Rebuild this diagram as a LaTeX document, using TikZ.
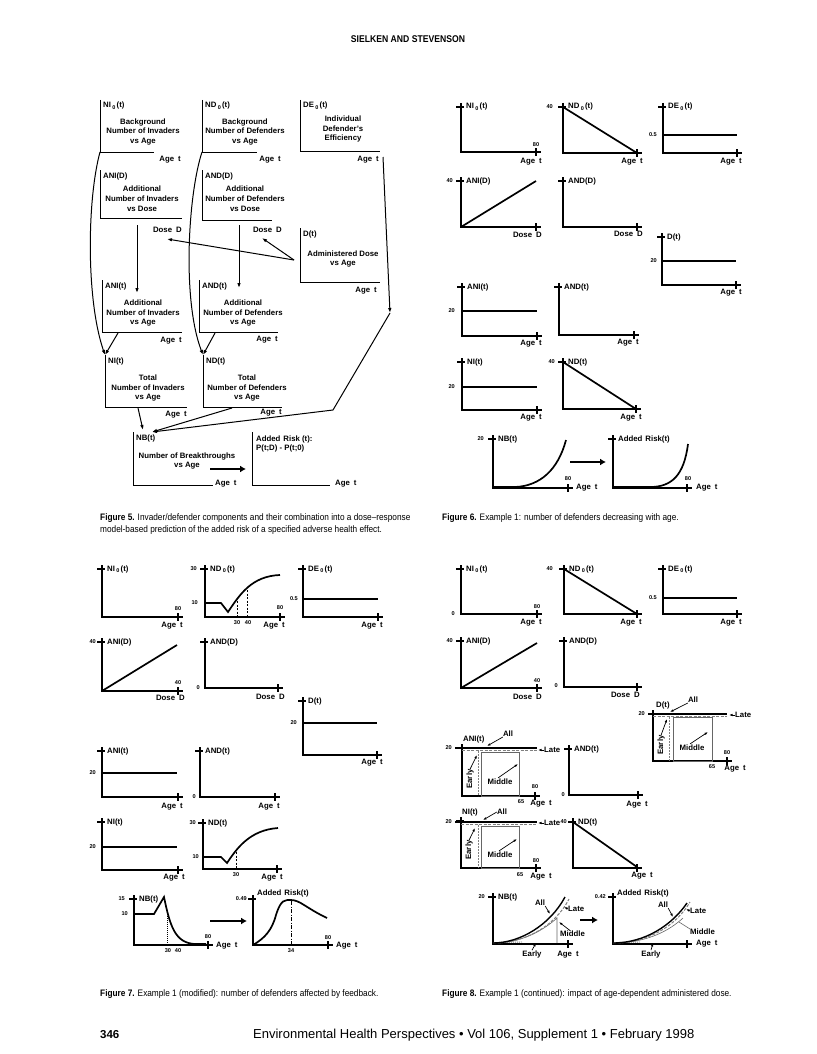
\documentclass[tikz,border=0pt]{standalone}
\usepackage{fontspec}
\setmainfont{Liberation Sans}
\newfontfamily\narrowfont[FakeStretch=0.88]{Liberation Sans}
\usetikzlibrary{arrows.meta}

\newcommand{\lowz}{\,\raisebox{-1.6pt}{\fontsize{5.5}{5.5}\selectfont 0}\,}
\newcommand{\aget}{Age\hspace{4pt}t}
\newcommand{\dosed}{Dose\hspace{4pt}D}

\tikzset{
  lbl/.style={inner sep=0pt, font=\bfseries\fontsize{7.8}{9}\selectfont},
  boxtext/.style={inner sep=0pt, align=center, font=\bfseries\fontsize{7.8}{9.8}\selectfont},
  num/.style={inner sep=0pt, font=\bfseries\fontsize{5.6}{6}\selectfont},
  frame/.style={line width=1pt},
  axis/.style={line width=1.15pt},
  data/.style={line width=1.7pt},
  late/.style={gray, line width=1pt, dash pattern=on 3pt off 1.5pt},
  early/.style={gray, line width=0.9pt, dash pattern=on 2pt off 1pt},
  mid/.style={gray!80!black, line width=0.6pt},
  link/.style={line width=1pt, -{Latex[length=5pt,width=3.6pt]}},
  pointer/.style={line width=0.7pt, -{Latex[length=3.5pt,width=2.5pt]}},
  bigarrow/.style={line width=2pt, -{Latex[length=6pt,width=7pt]}},
  guide/.style={line width=0.5pt, dash pattern=on 2pt off 1.5pt},
  caption/.style={inner sep=0pt, anchor=base west, font=\narrowfont\fontsize{9.4}{10}\selectfont},
}

% small graph: axes, the two cross ticks and the title
\newcommand{\smallgraph}[6]{%
  \coordinate (#1-top) at (#2,#3);
  \coordinate (#1-o) at (#2,#5);
  \coordinate (#1-end) at (#4+5,#5);
  \draw[axis] (#1-top) -- (#1-o) -- (#1-end);
  \draw[axis] (#2-5,#3+4) -- (#2+3,#3+4);
  \draw[axis] (#4,#5-4) -- (#4,#5+4);
  \node[lbl, anchor=west] (#1-name) at (#2+5,#3+4) {#6};
}

% block of figure 5: an open frame with its title
\newcommand{\diagblock}[6]{%
  \coordinate (#1-top) at (#2,#3);
  \coordinate (#1-o) at (#2,#5);
  \coordinate (#1-end) at (#4,#5);
  \draw[frame] (#1-top) -- (#1-o) -- (#1-end);
  \node[lbl, anchor=west] (#1-name) at (#2+3,#3+6) {#6};
}

\begin{document}
\begin{tikzpicture}[x=1pt,y=-1pt]
\useasboundingbox (0,0) rectangle (816,1054);
\fill[white] (0,0) rectangle (816,1054);

% header and footer
\node[inner sep=0pt, font=\narrowfont\bfseries\fontsize{9.8}{10}\selectfont] (head) at (408,39) {SIELKEN AND STEVENSON};
\node[inner sep=0pt, anchor=base west, font=\bfseries\fontsize{11.5}{12}\selectfont] (pageno) at (100,1038) {346};
\node[inner sep=0pt, anchor=base west, font=\fontsize{13}{14}\selectfont] (journal) at (253,1038) {Environmental Health Perspectives \textbullet\ Vol 106, Supplement 1 \textbullet\ February 1998};

%%%%%%%%%%%%%%%%%%%% Figure 5
\diagblock{NIz}{100}{100}{154}{152}{NI\lowz(t)}
\node[boxtext] (NIz-txt) at (143,132) {Background\\Number of Invaders\\vs Age};
\node[lbl, anchor=east] (NIz-age) at (181,160) {\aget};

\diagblock{NDz}{202}{100}{257}{152}{ND\lowz(t)}
\node[boxtext] (NDz-txt) at (245,132) {Background\\Number of Defenders\\vs Age};
\node[lbl, anchor=east] (NDz-age) at (281,160) {\aget};

\diagblock{DEz}{300}{100}{380}{151}{DE\lowz(t)}
\node[boxtext] (DEz-txt) at (343,129) {Individual\\Defender's\\Efficiency};
\node[lbl, anchor=east] (DEz-age) at (379,160) {\aget};

\diagblock{ANId}{100}{170}{182}{218}{ANI(D)}
\node[boxtext] (ANId-txt) at (142,199) {Additional\\Number of Invaders\\vs Dose};
\node[lbl, anchor=east] (ANId-dose) at (182,230) {\dosed};

\diagblock{ANDd}{202}{170}{272}{220}{AND(D)}
\node[boxtext] (ANDd-txt) at (245,199) {Additional\\Number of Defenders\\vs Dose};
\node[lbl, anchor=east] (ANDd-dose) at (282,230) {\dosed};

\diagblock{Dt}{300}{228}{380}{282}{D(t)}
\node[boxtext] (Dt-txt) at (343,259) {Administered Dose\\vs Age};
\node[lbl, anchor=east] (Dt-age) at (377,291) {\aget};

\diagblock{ANIt}{102}{280}{182}{332}{ANI(t)}
\node[boxtext] (ANIt-txt) at (143,313) {Additional\\Number of Invaders\\vs Age};
\node[lbl, anchor=east] (ANIt-age) at (182,341) {\aget};

\diagblock{ANDt}{199}{280}{278}{332}{AND(t)}
\node[boxtext] (ANDt-txt) at (243,313) {Additional\\Number of Defenders\\vs Age};
\node[lbl, anchor=east] (ANDt-age) at (278,340) {\aget};

\diagblock{NIt}{105}{355}{187}{407}{NI(t)}
\node[boxtext] (NIt-txt) at (148,388) {Total\\Number of Invaders\\vs Age};
\node[lbl, anchor=east] (NIt-age) at (187,415) {\aget};

\diagblock{NDt}{203}{355}{282}{407}{ND(t)}
\node[boxtext] (NDt-txt) at (247,388) {Total\\Number of Defenders\\vs Age};
\node[lbl, anchor=east] (NDt-age) at (282,413) {\aget};

\diagblock{NBt}{133}{432}{213}{485}{NB(t)}
\node[boxtext] (NBt-txt) at (187,461) {Number of Breakthroughs\\vs Age};
\node[lbl, anchor=west] (NBt-age) at (215,484) {\aget};

\diagblock{AR}{252}{432}{330}{485}{}
\node[lbl, anchor=north west, align=left, font=\bfseries\fontsize{7.8}{9}\selectfont] (AR-name) at (256,436) {Added\hspace{3pt}Risk (t):\\P(t;D) - P(t;0)};
\node[lbl, anchor=west] (AR-age) at (335,484) {\aget};

% connectors
\coordinate (ANId-foot) at (137,225);
\coordinate (ANIt-in) at (137,293);
\coordinate (ANDd-foot) at (239,225);
\coordinate (ANDt-in) at (239,288);
\coordinate (ANIt-foot) at (118,333);
\coordinate (ANDt-foot) at (215,333);
\coordinate (NIt-foot) at (138,408);
\coordinate (NDt-foot) at (232,408);
\coordinate (NBt-in) at (143,430);
\coordinate (NBt-corner) at (152,432);
\coordinate (Dt-out) at (294,260);
\coordinate (ANId-in) at (167,239);
\coordinate (ANDd-in) at (262,238);
\coordinate (DEz-foot) at (383,157);
\coordinate (DE-bend) at (390,313);
\coordinate (DE-knee) at (333,410);

\draw[link] (NIz-o) .. controls (87,200) and (86,300) .. (NIt-top);
\draw[link] (NDz-o) .. controls (188,195) and (182,300) .. (NDt-top);
\draw[link] (ANId-foot) -- (ANIt-in);
\draw[link] (ANDd-foot) -- (ANDt-in);
\draw[link] (ANIt-foot) -- (NIt-top);
\draw[link] (ANDt-foot) -- (NDt-top);
\draw[link] (Dt-out) -- (ANId-in);
\draw[link] (Dt-out) -- (ANDd-in);
\draw[link] (NIt-foot) -- (NBt-in);
\draw[link] (NDt-foot) -- (NBt-corner);
\draw[link] (DEz-foot) -- (DE-bend);
\draw[link] (DE-bend) -- (DE-knee) -- (NBt-corner);
\coordinate (f5arr-a) at (210,469);
\coordinate (f5arr-b) at (246,469);
\draw[bigarrow] (f5arr-a) -- (f5arr-b);

\node[caption] (cap5a) at (100,520) {\textbf{Figure 5.} Invader/defender components and their combination into a dose–response};
\node[caption] (cap5b) at (100,532) {model-based prediction of the added risk of a specified adverse health effect.};

%%%%%%%%%%%%%%%%%%%% Figure 6
\smallgraph{fsNIz}{461}{103}{536}{152}{NI\lowz(t)}
\node[num] (fsNIz-80) at (536,145) {80};
\node[lbl, anchor=east] (fsNIz-age) at (542,162) {\aget};

\smallgraph{fsNDz}{563}{103}{637}{153}{ND\lowz(t)}
\node[num, anchor=east] (fsNDz-40) at (553,107) {40};
\draw[data] (fsNDz-top) ++(0,4) -- (637,153);
\node[lbl, anchor=east] (fsNDz-age) at (643,162) {\aget};

\smallgraph{fsDEz}{663}{103}{737}{153}{DE\lowz(t)}
\draw[data] (663,135) -- (737,135);
\node[num, anchor=east] (fsDEz-v) at (657,135) {0.5};
\node[lbl, anchor=east] (fsDEz-age) at (742,162) {\aget};

\smallgraph{fsANId}{461}{177}{536}{227}{ANI(D)}
\node[num, anchor=east] (fsANId-40) at (453,181) {40};
\draw[data] (fsANId-o) -- (536,181);
\node[lbl, anchor=east] (fsANId-dose) at (542,235) {\dosed};

\smallgraph{fsANDd}{563}{177}{637}{227}{AND(D)}
\node[lbl, anchor=east] (fsANDd-dose) at (643,234) {\dosed};

\smallgraph{fsDt}{662}{233}{736}{285}{D(t)}
\draw[data] (662,261) -- (736,261);
\node[num, anchor=east] (fsDt-20) at (657,261) {20};
\node[lbl, anchor=east] (fsDt-age) at (742,293) {\aget};

\smallgraph{fsANIt}{462}{283}{537}{336}{ANI(t)}
\draw[data] (462,311) -- (537,311);
\node[num, anchor=east] (fsANIt-20) at (455,311) {20};
\node[lbl, anchor=east] (fsANIt-age) at (542,344) {\aget};

\smallgraph{fsANDt}{559}{283}{634}{335}{AND(t)}
\node[lbl, anchor=east] (fsANDt-age) at (639,343) {\aget};

\smallgraph{fsNIt}{462}{358}{537}{410}{NI(t)}
\draw[data] (462,387) -- (537,387);
\node[num, anchor=east] (fsNIt-20) at (455,387) {20};
\node[lbl, anchor=east] (fsNIt-age) at (542,418) {\aget};

\smallgraph{fsNDt}{563}{358}{636}{409}{ND(t)}
\node[num, anchor=east] (fsNDt-40) at (555,362) {40};
\draw[data] (563,362) -- (636,409);
\node[lbl, anchor=east] (fsNDt-age) at (642,418) {\aget};

\smallgraph{fsNBt}{493}{435}{568}{488}{NB(t)}
\node[num, anchor=east] (fsNBt-20) at (484,439) {20};
\draw[data] (493,487) -- (515,487) .. controls (540,486) and (558,470) .. (566,440);
\node[num] (fsNBt-80) at (568,479) {80};
\node[lbl, anchor=west] (fsNBt-age) at (576,488) {\aget};

\coordinate (f6arr-a) at (570,462);
\coordinate (f6arr-b) at (606,462);
\draw[bigarrow] (f6arr-a) -- (f6arr-b);

\smallgraph{fsAR}{613}{435}{687}{488}{Added\hspace{3pt}Risk(t)}
\draw[data] (613,487) -- (650,487) .. controls (672,487) and (684,475) .. (688,444);
\node[num] (fsAR-80) at (688,479) {80};
\node[lbl, anchor=west] (fsAR-age) at (696,488) {\aget};

\node[caption] (cap6) at (442,520) {\textbf{Figure 6.} Example 1: number of defenders decreasing with age.};

%%%%%%%%%%%%%%%%%%%% Figure 7
\smallgraph{fvNIz}{102}{565}{178}{617}{NI\lowz(t)}
\node[num] (fvNIz-80) at (178,609) {80};
\node[lbl, anchor=east] (fvNIz-age) at (183,626) {\aget};

\smallgraph{fvNDz}{205}{565}{280}{617}{ND\lowz(t)}
\node[num, anchor=east] (fvNDz-30) at (197,569) {30};
\node[num, anchor=east] (fvNDz-10) at (198,603) {10};
\draw[data] (205,603) -- (221,603) -- (228,612) .. controls (240,594) and (252,576) .. (280,575);
\draw[guide] (237,601) -- (237,617);
\draw[guide] (247,590) -- (247,617);
\node[num] (fvNDz-a) at (237,623) {30};
\node[num] (fvNDz-b) at (248,623) {40};
\node[num] (fvNDz-80) at (280,608) {80};
\node[lbl, anchor=east] (fvNDz-age) at (285,626) {\aget};

\smallgraph{fvDEz}{303}{565}{378}{617}{DE\lowz(t)}
\draw[data] (303,599) -- (378,599);
\node[num, anchor=east] (fvDEz-v) at (298,599) {0.5};
\node[lbl, anchor=east] (fvDEz-age) at (383,626) {\aget};

\smallgraph{fvANId}{102}{638}{178}{691}{ANI(D)}
\node[num, anchor=east] (fvANId-40) at (96,642) {40};
\draw[data] (fvANId-o) -- (177,645);
\node[num] (fvANId-x) at (178,683) {40};
\node[lbl, anchor=east] (fvANId-dose) at (185,698) {\dosed};

\smallgraph{fvANDd}{205}{638}{278}{688}{AND(D)}
\node[num, anchor=east] (fvANDd-0) at (200,688) {0};
\node[lbl, anchor=east] (fvANDd-dose) at (285,697) {\dosed};

\smallgraph{fvDt}{303}{697}{377}{755}{D(t)}
\draw[data] (303,723) -- (377,723);
\node[num, anchor=east] (fvDt-20) at (297,723) {20};
\node[lbl, anchor=east] (fvDt-age) at (383,763) {\aget};

\smallgraph{fvANIt}{102}{747}{178}{797}{ANI(t)}
\draw[data] (102,773) -- (177,773);
\node[num, anchor=east] (fvANIt-20) at (96,773) {20};
\node[lbl, anchor=east] (fvANIt-age) at (183,807) {\aget};

\smallgraph{fvANDt}{200}{747}{275}{797}{AND(t)}
\node[num, anchor=east] (fvANDt-0) at (196,797) {0};
\node[lbl, anchor=east] (fvANDt-age) at (280,807) {\aget};

\smallgraph{fvNIt}{102}{818}{178}{870}{NI(t)}
\draw[data] (102,847) -- (177,847);
\node[num, anchor=east] (fvNIt-20) at (96,847) {20};
\node[lbl, anchor=east] (fvNIt-age) at (185,878) {\aget};

\smallgraph{fvNDt}{203}{819}{277}{869}{ND(t)}
\node[num, anchor=east] (fvNDt-30) at (196,823) {30};
\node[num, anchor=east] (fvNDt-10) at (199,857) {10};
\draw[data] (203,857) -- (221,857) -- (227,863) .. controls (237,848) and (250,830) .. (278,828);
\draw[guide] (236,852) -- (236,869);
\node[num] (fvNDt-a) at (236,875) {30};
\node[lbl, anchor=east] (fvNDt-age) at (283,878) {\aget};

\smallgraph{fvNBt}{134}{895}{208}{945}{NB(t)}
\node[num, anchor=east] (fvNBt-15) at (125,899) {15};
\node[num, anchor=east] (fvNBt-10) at (128,914) {10};
\draw[data] (134,914) -- (154,914) -- (164,897) .. controls (170,926) and (175,943) .. (195,944) -- (206,944);
\draw[guide, dash pattern=on 1pt off 1pt] (167,912) -- (167,945);
\node[num] (fvNBt-ab) at (173,951) {30\hspace{4pt}40};
\node[num] (fvNBt-80) at (208,937) {80};
\node[lbl, anchor=west] (fvNBt-age) at (216,946) {\aget};

\coordinate (f7arr-a) at (210,921);
\coordinate (f7arr-b) at (247,921);
\draw[bigarrow] (f7arr-a) -- (f7arr-b);

\smallgraph{fvAR}{253}{895}{328}{945}{}
\node[lbl, anchor=west] (fvAR-name) at (257,893) {Added\hspace{3pt}Risk(t)};
\node[num, anchor=east] (fvAR-v) at (247,899) {0.49};
\draw[data] (253,945) .. controls (265,938) and (272,930) .. (276,915) .. controls (281,899) and (285,900) .. (291,900) .. controls (300,900) and (306,908) .. (327,918);
\draw[guide, dash pattern=on 4pt off 1.5pt on 1pt off 1.5pt] (291,901) -- (291,945);
\node[num] (fvAR-34) at (291,951) {34};
\node[num] (fvAR-80) at (328,938) {80};
\node[lbl, anchor=west] (fvAR-age) at (336,946) {\aget};

\node[caption] (cap7) at (100,996) {\textbf{Figure 7.} Example 1 (modified): number of defenders affected by feedback.};

%%%%%%%%%%%%%%%%%%%% Figure 8
\smallgraph{feNIz}{461}{565}{537}{614}{NI\lowz(t)}
\node[num, anchor=east] (feNIz-0) at (455,614) {0};
\node[num] (feNIz-80) at (537,607) {80};
\node[lbl, anchor=east] (feNIz-age) at (542,623) {\aget};

\smallgraph{feNDz}{564}{565}{637}{614}{ND\lowz(t)}
\node[num, anchor=east] (feNDz-40) at (553,569) {40};
\draw[data] (564,569) -- (637,614);
\node[lbl, anchor=east] (feNDz-age) at (642,623) {\aget};

\smallgraph{feDEz}{663}{565}{737}{614}{DE\lowz(t)}
\draw[data] (663,598) -- (737,598);
\node[num, anchor=east] (feDEz-v) at (657,598) {0.5};
\node[lbl, anchor=east] (feDEz-age) at (742,623) {\aget};

\smallgraph{feANId}{461}{637}{537}{688}{ANI(D)}
\node[num, anchor=east] (feANId-40) at (453,641) {40};
\draw[data] (feANId-o) -- (537,643);
\node[num] (feANId-x) at (537,681) {40};
\node[lbl, anchor=east] (feANId-dose) at (542,697) {\dosed};

\smallgraph{feANDd}{564}{637}{637}{687}{AND(D)}
\node[num, anchor=east] (feANDd-0) at (558,686) {0};
\node[lbl, anchor=east] (feANDd-dose) at (640,695) {\dosed};

% D(t) with the three dose periods
\smallgraph{feDt}{653}{710}{727}{761}{}
\node[lbl, anchor=west] (feDt-name) at (656,705) {D(t)};
\node[num, anchor=east] (feDt-20) at (645,714) {20};
\draw[data] (648,714) -- (727,714);
\draw[late] (653,716.5) -- (727,716.5);
\draw[early] (669,717) -- (669,761);
\draw[mid] (673,717) rectangle (712,761);
\node[lbl] (feDt-all) at (693,700) {All};
\draw[pointer] (feDt-all.south west) -- (670,712);
\node[lbl, anchor=west] (feDt-late) at (735,715) {Late};
\draw[pointer] (feDt-late.west) -- ++(-6,0);
\node[lbl, rotate=90] (feDt-early) at (661,745) {Early};
\draw[pointer] (feDt-early.east) -- (667,719);
\node[lbl] (feDt-mid) at (692,748) {Middle};
\draw[pointer] (feDt-mid.north) ++(-2,-1) -- (708,732);
\node[num] (feDt-80) at (727,753) {80};
\node[num] (feDt-65) at (712,767) {65};
\node[lbl, anchor=east] (feDt-age) at (746,769) {\aget};

% ANI(t)
\smallgraph{feANIt}{462}{744}{535}{796}{}
\node[lbl, anchor=west] (feANIt-name) at (463,739) {ANI(t)};
\node[num, anchor=east] (feANIt-20) at (452,748) {20};
\draw[data] (455,748) -- (537,748);
\draw[late] (462,750.5) -- (537,750.5);
\draw[early] (478,751) -- (478,796);
\draw[mid] (481,752) rectangle (519,796);
\node[lbl] (feANIt-all) at (508,734) {All};
\draw[pointer] (feANIt-all.south west) -- (487,746);
\node[lbl, anchor=west] (feANIt-late) at (544,750) {Late};
\draw[pointer] (feANIt-late.west) -- ++(-6,0);
\node[lbl, rotate=90] (feANIt-early) at (470,779) {Early};
\draw[pointer] (feANIt-early.east) -- (477,755);
\node[lbl] (feANIt-mid) at (500,782) {Middle};
\draw[pointer] (feANIt-mid.north) ++(-2,-1) -- (518,764);
\node[num] (feANIt-80) at (535,787) {80};
\node[num] (feANIt-65) at (521,802) {65};
\node[lbl, anchor=east] (feANIt-age) at (552,804) {\aget};

\smallgraph{feANDt}{569}{745}{638}{795}{AND(t)}
\node[num, anchor=east] (feANDt-0) at (565,795) {0};
\node[lbl, anchor=east] (feANDt-age) at (648,805) {\aget};

% NI(t)
\smallgraph{feNIt}{461}{817}{536}{868}{}
\node[lbl, anchor=west] (feNIt-name) at (462,812) {NI(t)};
\node[num, anchor=east] (feNIt-20) at (452,822) {20};
\draw[data] (455,822) -- (537,822);
\draw[late] (461,824.5) -- (537,824.5);
\draw[early] (478,825) -- (478,868);
\draw[mid] (481,826) rectangle (519,868);
\node[lbl] (feNIt-all) at (502,812) {All};
\draw[pointer] (feNIt-all.west) -- (483,820);
\node[lbl, anchor=west] (feNIt-late) at (544,823) {Late};
\draw[pointer] (feNIt-late.west) -- ++(-6,0);
\node[lbl, rotate=90] (feNIt-early) at (469,850) {Early};
\draw[pointer] (feNIt-early.east) -- (475,828);
\node[lbl] (feNIt-mid) at (500,855) {Middle};
\draw[pointer] (feNIt-mid.north) ++(-1,-1) -- (517,839);
\node[num] (feNIt-80) at (536,861) {80};
\node[num] (feNIt-65) at (520,875) {65};
\node[lbl, anchor=east] (feNIt-age) at (552,877) {\aget};

\smallgraph{feNDt}{573}{818}{637}{868}{ND(t)}
\node[num, anchor=east] (feNDt-40) at (567,822) {40};
\draw[data] (573,822) -- (637,867);
\node[lbl, anchor=east] (feNDt-age) at (653,876) {\aget};

% NB(t)
\smallgraph{feNBt}{493}{893}{568}{944}{NB(t)}
\node[num, anchor=east] (feNBt-20) at (485,897) {20};
\draw[early, dash pattern=on 1pt off 1pt] (495,942.5) -- (522,942);
\draw[mid] (500,943) .. controls (525,941) and (545,929) .. (557,918) -- (557,943);
\draw[late] (493,943) .. controls (523,943) and (554,928) .. (569,899);
\draw[data, line width=1.4pt] (493,943) .. controls (520,943) and (550,925) .. (565,897);
\node[lbl] (feNBt-all) at (540,903) {All};
\draw[pointer] (feNBt-all.south east) -- (550,914);
\node[lbl, anchor=west] (feNBt-late) at (568,909) {Late};
\draw[pointer] (feNBt-late.west) -- ++(-4,-2);
\node[lbl, anchor=west] (feNBt-mid) at (560,934) {Middle};
\draw[pointer] (feNBt-mid.north) ++(-2,0) -- (559,922);
\node[lbl] (feNBt-early) at (532,954) {Early};
\draw[pointer] (feNBt-early.north) -- (536,943);
\node[lbl] (feNBt-age) at (568,955) {\aget};

\coordinate (f8arr-a) at (580,920);
\coordinate (f8arr-b) at (598,920);
\draw[bigarrow] (f8arr-a) -- (f8arr-b);

% Added Risk(t)
\smallgraph{feAR}{613}{893}{687}{944}{}
\node[lbl, anchor=west] (feAR-name) at (617,893) {Added\hspace{3pt}Risk(t)};
\node[num, anchor=east] (feAR-v) at (606,897) {0.42};
\draw[early, dash pattern=on 1pt off 1pt] (615,942.5) -- (640,942);
\draw[mid] (620,943) .. controls (650,941) and (670,930) .. (683,918);
\draw[late] (613,943) .. controls (648,943) and (676,926) .. (690,902);
\draw[data, line width=1.4pt] (613,943) .. controls (645,943) and (672,925) .. (687,903);
\node[lbl] (feAR-all) at (663,905) {All};
\draw[pointer] (feAR-all.south east) -- (673,917);
\node[lbl, anchor=west] (feAR-late) at (690,911) {Late};
\draw[pointer] (feAR-late.west) -- ++(-4,-2);
\node[lbl, anchor=west] (feAR-mid) at (690,932) {Middle};
\draw[mid] (feAR-mid.west) ++(0,-3) -- (679,922);
\node[lbl] (feAR-early) at (651,954) {Early};
\draw[pointer] (feAR-early.north) -- (653,943);
\node[lbl, anchor=west] (feAR-age) at (696,944) {\aget};

\node[caption] (cap8) at (442,996) {\textbf{Figure 8.} Example 1 (continued): impact of age-dependent administered dose.};

\end{tikzpicture}
\end{document}
